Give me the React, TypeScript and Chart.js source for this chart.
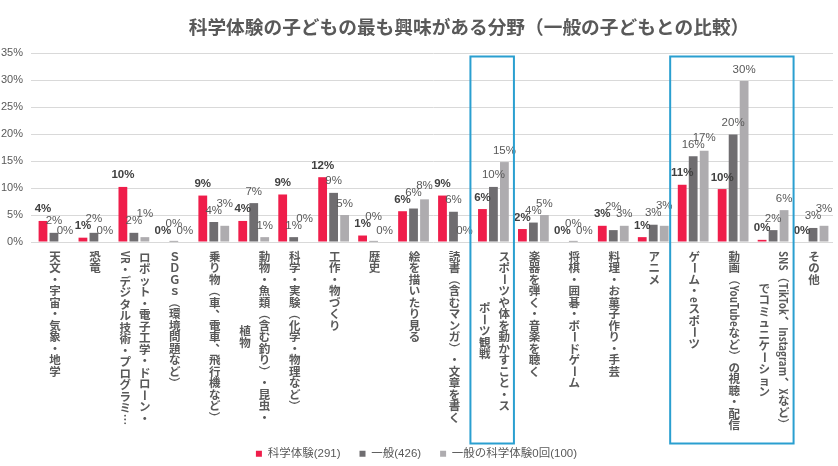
import { useEffect, useRef } from "react";
import { Chart, registerables } from "chart.js";

Chart.register(...registerables);

// ---- data ---------------------------------------------------------------

const chartTitle = "科学体験の子どもの最も興味がある分野（一般の子どもとの比較）";

// Each category label is written vertically; every inner string is one column.
const categoryLines: string[][] = [
  ["天文・宇宙・気象・地学"],
  ["恐竜"],
  ["ロボット・電子工学・ドローン・", "VR・デジタル技術・プログラミ…"],
  ["ＳＤＧｓ（環境問題など）"],
  ["乗り物（車、電車、飛行機など）"],
  ["動物・魚類（含む釣り）・昆虫・", "植物"],
  ["科学・実験（化学・物理など）"],
  ["工作・物づくり"],
  ["歴史"],
  ["絵を描いたり見る"],
  ["読書（含むマンガ）・文章を書く"],
  ["スポーツや体を動かすこと・ス", "ポーツ観戦"],
  ["楽器を弾く・音楽を聴く"],
  ["将棋・囲碁・ボードゲーム"],
  ["料理・お菓子作り・手芸"],
  ["アニメ"],
  ["ゲーム・eスポーツ"],
  ["動画（YouTubeなど）の視聴・配信"],
  ["SNS（TikTok、Instagram、Xなど）", "でコミュニケーション"],
  ["その他"],
];

const seriesNames = ["科学体験(291)", "一般(426)", "一般の科学体験0回(100)"];

// Share of children (%) per field
const scienceKids = [3.9, 0.8, 10.2, 0, 8.6, 3.9, 8.8, 12.0, 1.2, 5.7, 8.6, 6.1, 2.4, 0, 3.0, 0.9, 10.6, 9.8, 0.4, 0];
const generalKids = [1.7, 1.7, 1.7, 0.2, 3.7, 7.2, 0.9, 9.1, 0.2, 6.2, 5.6, 10.2, 3.6, 0.2, 2.2, 3.2, 15.9, 19.9, 2.2, 2.6];
const generalNoScience = [0, 0, 0.9, 0, 3.0, 0.9, 0, 5.0, 0, 7.9, 0, 14.8, 5.0, 0, 3.0, 3.0, 16.9, 29.8, 5.9, 3.0];

const yTickValues = [0, 5, 10, 15, 20, 25, 30, 35];

// Category index ranges outlined with a frame
const highlightedRanges: [number, number][] = [
  [11, 11],
  [16, 18],
];

// ---- styling --------------------------------------------------------------

const seriesColors = ["#EF1D4A", "#6F6D70", "#AEACAF"];
const TEXT_GRAY = "#595959";
const LABEL_DARK = "#404040";
const FRAME_BLUE = "#2A9FD0";
const JP_FONT = "'Noto Sans CJK JP', 'Noto Sans', sans-serif";
const MIXED_FONT = "'Liberation Sans', 'Noto Sans CJK JP', sans-serif";
const NUM_FONT = "'Liberation Sans', Arial, sans-serif";

const LABEL_SIZE = 11.5;
const COLUMN_PITCH = 19.5;
const LATIN_SQUEEZE = 0.85;

// ---- vertical text ---------------------------------------------------------

const isLatin = (ch: string) => /[A-Za-z0-9 .]/.test(ch);
const turnedGlyphs = new Set(["ー", "（", "）", "…", "〜", "－"]);

// Lays out (and optionally draws) one vertical column; returns its length.
function verticalColumn(
  ctx: CanvasRenderingContext2D,
  text: string,
  fs: number,
  at: { x: number; y: number } | null
): number {
  const chars = Array.from(text);
  let y = 0;
  let i = 0;
  while (i < chars.length) {
    const ch = chars[i];
    if (isLatin(ch)) {
      let run = "";
      while (i < chars.length && isLatin(chars[i])) {
        run += chars[i];
        i++;
      }
      const w = ctx.measureText(run).width * LATIN_SQUEEZE + 1;
      if (at) {
        ctx.save();
        ctx.translate(at.x, at.y + y + 0.5);
        ctx.rotate(Math.PI / 2);
        ctx.scale(LATIN_SQUEEZE, 1);
        ctx.textAlign = "left";
        ctx.textBaseline = "middle";
        ctx.fillText(run, 0, 0);
        ctx.restore();
      }
      y += w;
      continue;
    }
    if (at) {
      if (turnedGlyphs.has(ch)) {
        ctx.save();
        ctx.translate(at.x, at.y + y + fs / 2);
        ctx.rotate(Math.PI / 2);
        ctx.textAlign = "center";
        ctx.textBaseline = "middle";
        ctx.fillText(ch, 0, 0);
        ctx.restore();
      } else if (ch === "、" || ch === "。") {
        ctx.textAlign = "center";
        ctx.textBaseline = "middle";
        ctx.fillText(ch, at.x + fs * 0.55, at.y + y + fs / 2 - fs * 0.55);
      } else {
        ctx.textAlign = "center";
        ctx.textBaseline = "middle";
        ctx.fillText(ch, at.x, at.y + y + fs / 2);
      }
    }
    y += fs;
    i++;
  }
  return y;
}

// ---- plugins ---------------------------------------------------------------

const titlePlugin = {
  id: "centerTitle",
  afterDraw(chart: any) {
    const { ctx } = chart;
    ctx.save();
    ctx.font = `bold 18.7px ${JP_FONT}`;
    ctx.fillStyle = TEXT_GRAY;
    ctx.textAlign = "center";
    ctx.textBaseline = "middle";
    ctx.fillText(chartTitle, chart.width / 2 + 50, 27);
    ctx.restore();
  },
};

const verticalLabelsPlugin = {
  id: "verticalLabels",
  afterDraw(chart: any) {
    const { ctx, chartArea } = chart;
    const x = chart.scales.x;
    ctx.save();
    ctx.font = `bold ${LABEL_SIZE}px ${JP_FONT}`;
    ctx.fillStyle = TEXT_GRAY;
    categoryLines.forEach((lines, i) => {
      const cx = x.getPixelForValue(i) + 1;
      const lengths = lines.map((l) => verticalColumn(ctx, l, LABEL_SIZE, null));
      const longest = Math.max(...lengths);
      lines.forEach((line, k) => {
        const colX = cx + ((lines.length - 1) / 2 - k) * COLUMN_PITCH;
        const top = chartArea.bottom + 8.5 + (longest - lengths[k]) / 2;
        verticalColumn(ctx, line, LABEL_SIZE, { x: colX, y: top });
      });
    });
    ctx.restore();
  },
};

type Box = { x0: number; x1: number; y0: number; y1: number };

const valueLabelsPlugin = {
  id: "valueLabels",
  afterDatasetsDraw(chart: any) {
    const { ctx } = chart;
    const placed: Box[] = [];
    const textH = 8.5;
    const slack = 2;
    ctx.save();
    ctx.textAlign = "left";
    ctx.textBaseline = "alphabetic";
    for (let i = 0; i < categoryLines.length; i++) {
      chart.data.datasets.forEach((ds: any, d: number) => {
        const bar = chart.getDatasetMeta(d).data[i];
        const text = `${Math.round(ds.data[i])}%`;
        ctx.font = d === 0 ? `bold 11.5px ${NUM_FONT}` : `11.5px ${NUM_FONT}`;
        ctx.fillStyle = d === 0 ? LABEL_DARK : TEXT_GRAY;
        const w = ctx.measureText(text).width;
        let x0 = bar.x - w / 2;
        let base = bar.y - 8.5;
        for (let guard = 0; guard < 12; guard++) {
          const hit = placed.find(
            (r) =>
              Math.min(r.x1, x0 + w) - Math.max(r.x0, x0) > slack &&
              Math.min(r.y1, base) - Math.max(r.y0, base - textH) > slack
          );
          if (!hit) break;
          const overlap = hit.x1 - x0;
          if (overlap >= 7 && overlap <= 10) x0 = hit.x1 - slack;
          else base = hit.y0 + slack - 0.5;
        }
        placed.push({ x0, x1: x0 + w, y0: base - textH, y1: base });
        ctx.fillText(text, x0, base);
      });
    }
    ctx.restore();
  },
};

const framePlugin = {
  id: "highlightFrames",
  afterDraw(chart: any) {
    const { ctx, chartArea } = chart;
    const x = chart.scales.x;
    const y = chart.scales.y;
    ctx.save();
    ctx.strokeStyle = FRAME_BLUE;
    ctx.lineWidth = 2;
    highlightedRanges.forEach(([a, b]) => {
      const left = x.getPixelForValue(a) - 23;
      const right = x.getPixelForValue(b) + 20.5;
      const top = y.getPixelForValue(35) + 3.5;
      const bottom = chartArea.bottom + 201.5;
      ctx.strokeRect(left, top, right - left, bottom - top);
    });
    ctx.restore();
  },
};

// ---- component -------------------------------------------------------------

export default function App() {
  const canvasRef = useRef<HTMLCanvasElement | null>(null);

  useEffect(() => {
    document.body.style.margin = "0";
    const canvas = canvasRef.current;
    if (!canvas) return;

    const chart = new Chart(canvas, {
      type: "bar",
      data: {
        labels: categoryLines.map((l) => l.join("")),
        datasets: [scienceKids, generalKids, generalNoScience].map((values, k) => ({
          label: seriesNames[k],
          data: values,
          backgroundColor: seriesColors[k],
          borderWidth: 0,
          categoryPercentage: 0.825,
          barPercentage: 0.8,
        })),
      },
      options: {
        responsive: false,
        animation: false,
        devicePixelRatio: 1,
        layout: { padding: { top: 53, right: 5, left: 0, bottom: 0 } },
        plugins: {
          title: { display: false },
          tooltip: { enabled: false },
          legend: {
            position: "bottom",
            maxHeight: 37,
            labels: {
              boxWidth: 6,
              boxHeight: 6,
              padding: 19,
              color: TEXT_GRAY,
              font: { size: 11.5, family: MIXED_FONT },
            },
          },
        },
        scales: {
          x: {
            grid: { display: false },
            border: { display: false },
            ticks: { display: false },
            afterFit: (s: any) => {
              s.height = 187;
            },
          },
          y: {
            min: 0,
            max: 35,
            afterBuildTicks: (s: any) => {
              s.ticks = yTickValues.map((value) => ({ value }));
            },
            ticks: {
              callback: (v: any) => `${v}%`,
              color: TEXT_GRAY,
              font: { size: 11, family: NUM_FONT },
              padding: 8,
            },
            grid: { color: "#D9D9D9", tickLength: 3 },
            border: { display: false },
            afterFit: (s: any) => {
              s.width = 34;
            },
          },
        },
      },
      plugins: [valueLabelsPlugin, verticalLabelsPlugin, framePlugin, titlePlugin],
    });

    return () => chart.destroy();
  }, []);

  return (
    <div style={{ width: 838, height: 466, background: "#ffffff" }}>
      <canvas ref={canvasRef} width={838} height={466} style={{ display: "block" }} />
    </div>
  );
}
